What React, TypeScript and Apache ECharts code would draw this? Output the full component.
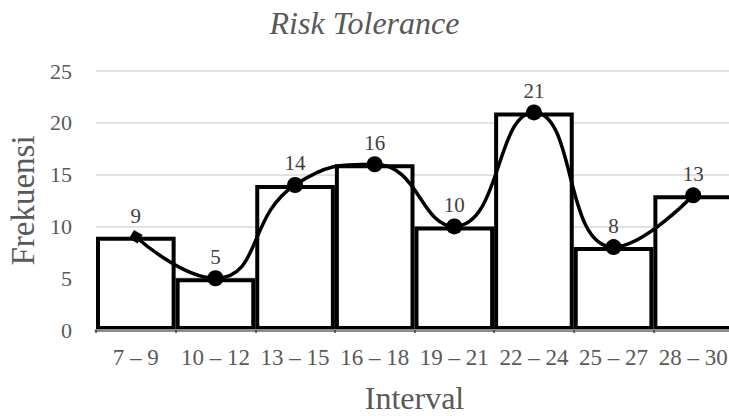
import React, { useEffect, useRef } from "react";
import * as echarts from "echarts";

const categories = ["7 – 9", "10 – 12", "13 – 15", "16 – 18", "19 – 21", "22 – 24", "25 – 27", "28 – 30"];
const frequencies = [9, 5, 14, 16, 10, 21, 8, 13];
const yTicks = { min: 0, max: 25, interval: 5 };

const FONT = "'Liberation Serif', 'Times New Roman', serif";

export default function App() {
  const ref = useRef<HTMLDivElement>(null);
  useEffect(() => {
    const chart = echarts.init(ref.current!, null, { renderer: "svg" });
    chart.setOption({
      animation: false,
      backgroundColor: "#ffffff",
      textStyle: { fontFamily: FONT },
      title: {
        text: "Risk Tolerance",
        left: "center",
        top: 2,
        textStyle: { fontFamily: FONT, fontStyle: "italic", fontWeight: "normal", fontSize: 32, color: "#595959" },
      },
      grid: { left: 96, right: -4, top: 71, bottom: 86, containLabel: false, outerBoundsMode: "none" },
      xAxis: {
        type: "category",
        data: categories,
        name: "Interval",
        nameLocation: "middle",
        nameGap: 52,
        nameTextStyle: { fontFamily: FONT, fontSize: 32, color: "#595959" },
        axisLine: { lineStyle: { color: "#8c8c8c", width: 3 } },
        axisTick: { show: true, length: 3, lineStyle: { color: "#404040", width: 1.5 } },
        axisLabel: { fontFamily: FONT, fontSize: 23, color: "#595959", margin: 16, interval: 0 },
        z: 10,
      },
      yAxis: {
        type: "value",
        min: yTicks.min,
        max: yTicks.max,
        interval: yTicks.interval,
        name: "Frekuensi",
        nameLocation: "middle",
        nameGap: 57,
        nameTextStyle: { fontFamily: FONT, fontSize: 33, color: "#595959" },
        axisLine: { show: false },
        axisTick: { show: false },
        axisLabel: { fontFamily: FONT, fontSize: 22, color: "#595959", margin: 24 },
        splitLine: { lineStyle: { color: "#d9d9d9", width: 1.5 } },
      },
      series: [
        {
          type: "bar",
          data: frequencies,
          barCategoryGap: "0%",
          itemStyle: { color: "#ffffff", borderColor: "#000000", borderWidth: 4 },
          silent: true,
          z: 2,
        },
        {
          type: "line",
          data: frequencies.map((v, i) =>
            i === 0 ? { value: v, symbol: "rect", symbolSize: 10, symbolRotate: -30 } : v
          ),
          smooth: 0.5,
          symbol: "circle",
          symbolSize: 16,
          itemStyle: { color: "#000000" },
          lineStyle: { color: "#000000", width: 3.5 },
          label: {
            show: true,
            position: "top",
            distance: 3,
            fontFamily: FONT,
            fontSize: 21,
            color: "#404040",
          },
          z: 3,
        },
      ],
    });
    return () => chart.dispose();
  }, []);
  return <div ref={ref} style={{ position: "fixed", left: 0, top: 0, width: 729, height: 416 }} />;
}
